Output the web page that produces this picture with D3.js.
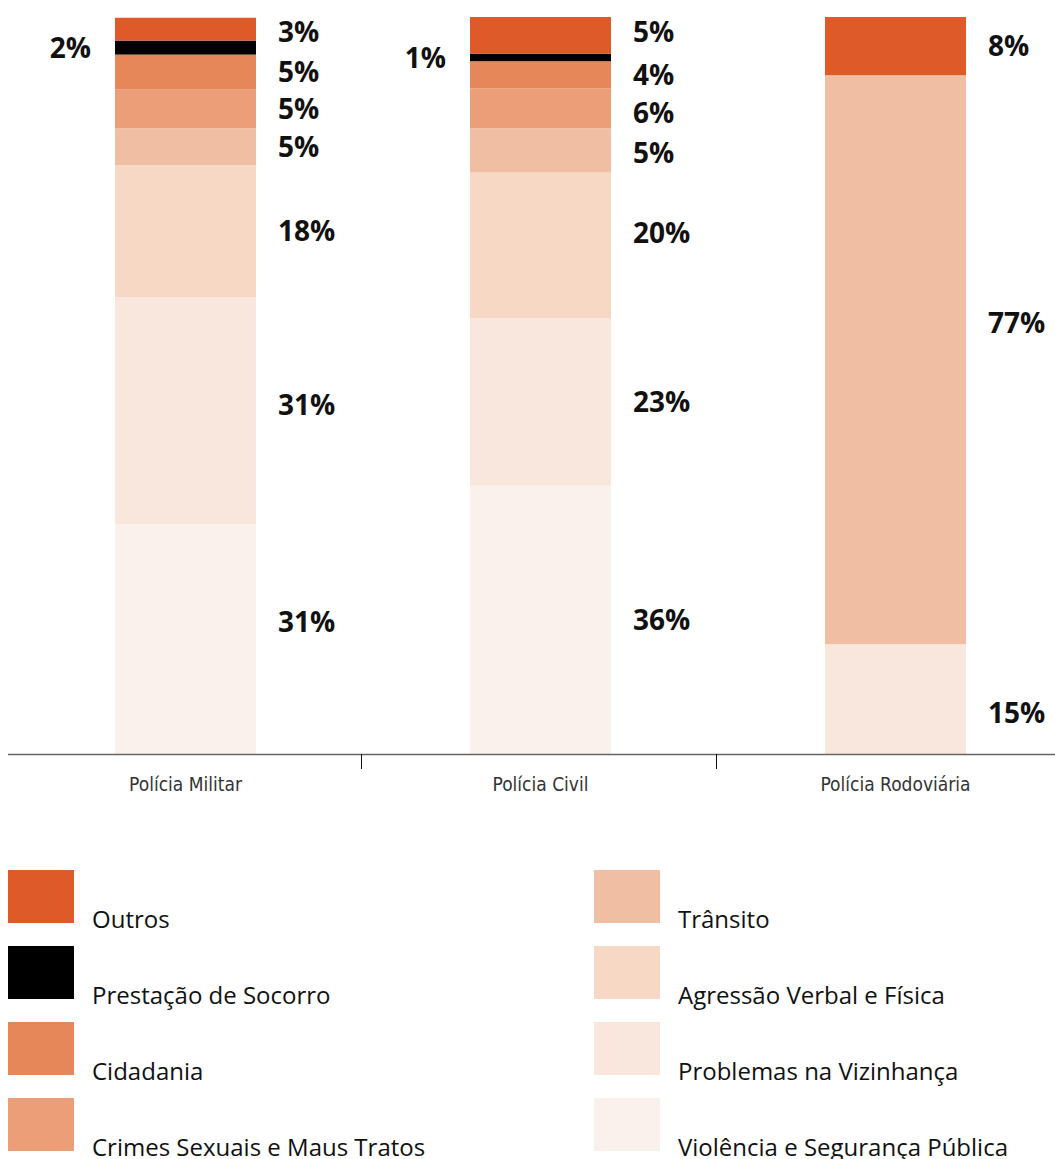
<!DOCTYPE html>
<html>
<head>
<meta charset="utf-8">
<script src="https://cdn.jsdelivr.net/npm/d3@7"></script>
<style>
  body { margin: 0; background: #fff; }
  svg { display: block; }
  .pct { font-family: "Open Sans", "Noto Sans", sans-serif; font-weight: 700; font-size: 28px; fill: #111; }
  .cat { font-family: "Liberation Sans Narrow", "DejaVu Sans Condensed", sans-serif; font-size: 19px; fill: #333; }
  .leg { font-family: "Open Sans", "Noto Sans", sans-serif; font-weight: 500; font-size: 24px; fill: #111; }
</style>
</head>
<body>
<div id="chart"></div>
<script>
// categories (bottom of the stack first)
var series = ["Violência e Segurança Pública", "Problemas na Vizinhança", "Agressão Verbal e Física",
	"Trânsito", "Crimes Sexuais e Maus Tratos", "Cidadania", "Prestação de Socorro", "Outros"];
var colors = ["#fbf1ec", "#f9e7de", "#f6d8c5", "#f0bea2", "#eb9e77", "#e6875a", "#000000", "#de5a29"];

var groups = ["Polícia Militar", "Polícia Civil", "Polícia Rodoviária"];

// estimated shares (%) per group, same order as series
var militar    = [31.2, 30.8, 17.9, 5.0, 5.3, 4.7, 1.9, 3.1];
var civil      = [36.4, 22.7, 19.8, 6.0, 5.4, 3.7, 1.0, 5.0];
var rodoviaria = [0, 14.9, 0, 77.2, 0, 0, 0, 7.9];

// printed labels
var militarLabels    = ["31%", "31%", "18%", "5%", "5%", "5%", "2%", "3%"];
var civilLabels      = ["36%", "23%", "20%", "5%", "6%", "4%", "1%", "5%"];
var rodoviariaLabels = ["", "15%", "", "77%", "", "", "", "8%"];

var values = [militar, civil, rodoviaria];
var labels = [militarLabels, civilLabels, rodoviariaLabels];

// legend order: two columns
var legendLeft  = ["Outros", "Prestação de Socorro", "Cidadania", "Crimes Sexuais e Maus Tratos"];
var legendRight = ["Trânsito", "Agressão Verbal e Física", "Problemas na Vizinhança", "Violência e Segurança Pública"];

var width = 1055, height = 1159;
var baseY = 754, topY = 17;
var barW = 141;

// small label shifts (px) where the original moved a label off the middle
var nudge = {
	"Polícia Militar|Violência e Segurança Pública": -17,
	"Polícia Militar|Problemas na Vizinhança": -6,
	"Polícia Militar|Outros": 3,
	"Polícia Civil|Agressão Verbal e Física": -13,
	"Polícia Civil|Outros": -4,
	"Polícia Civil|Crimes Sexuais e Maus Tratos": 5,
	"Polícia Civil|Trânsito": 3,
	"Polícia Rodoviária|Trânsito": -37,
	"Polícia Rodoviária|Problemas na Vizinhança": 14
};

var svg = d3.select("#chart").append("svg")
	.attr("width", width)
	.attr("height", height);

var x = d3.scaleBand()
	.domain(groups)
	.range([8, 1073])
	.padding(0);

var y = d3.scaleLinear()
	.domain([0, 100])
	.range([baseY, topY]);

var color = d3.scaleOrdinal()
	.domain(series)
	.range(colors);

// build stacked segments
var segs = [];
groups.forEach(function(g, gi) {
	var acc = 0;
	values[gi].forEach(function(v, si) {
		segs.push({group: g, key: series[si], y0: acc, y1: acc + v, label: labels[gi][si]});
		acc += v;
	});
});
segs = segs.filter(function(d) { return d.y1 > d.y0; });

var barX = function(d) { return x(d.group) + (x.bandwidth() - barW) / 2; };

svg.selectAll("rect.seg")
	.data(segs)
	.enter()
	.append("rect")
	.attr("class", "seg")
	.attr("x", barX)
	.attr("width", barW)
	.attr("y", function(d) { return y(d.y1); })
	.attr("height", function(d) { return y(d.y0) - y(d.y1); })
	.attr("fill", function(d) { return color(d.key); });

// percentage labels; "Prestação de Socorro" sits on the left of the bar
svg.selectAll("text.pct")
	.data(segs.filter(function(d) { return d.label; }))
	.enter()
	.append("text")
	.attr("class", "pct")
	.attr("x", function(d) {
		return d.key === "Prestação de Socorro" ? barX(d) - 24 : barX(d) + barW + 22;
	})
	.attr("y", function(d) {
		return y((d.y0 + d.y1) / 2) + (nudge[d.group + "|" + d.key] || 0);
	})
	.attr("dy", "0.36em")
	.attr("text-anchor", function(d) { return d.key === "Prestação de Socorro" ? "end" : "start"; })
	.text(function(d) { return d.label; });

// axis line
svg.append("line")
	.attr("x1", 8).attr("x2", width)
	.attr("y1", baseY + 0.5).attr("y2", baseY + 0.5)
	.attr("stroke", "#666")
	.attr("stroke-width", 1.5);

// separators between groups
svg.selectAll("line.sep")
	.data(groups.slice(1))
	.enter()
	.append("line")
	.attr("class", "sep")
	.attr("x1", function(d) { return x(d) - 1.5; })
	.attr("x2", function(d) { return x(d) - 1.5; })
	.attr("y1", baseY)
	.attr("y2", baseY + 15)
	.attr("stroke", "#111");

svg.selectAll("text.cat")
	.data(groups)
	.enter()
	.append("text")
	.attr("class", "cat")
	.attr("x", function(d) { return x(d) + x.bandwidth() / 2; })
	.attr("y", 791)
	.attr("text-anchor", "middle")
	.text(function(d) { return d; });

// legend
var legY = d3.scaleBand().domain(d3.range(4)).range([870, 1174]);
var legCols = [{items: legendLeft, x: 8}, {items: legendRight, x: 594}];

legCols.forEach(function(col) {
	var g = svg.append("g");
	g.selectAll("rect")
		.data(col.items)
		.enter()
		.append("rect")
		.attr("x", col.x)
		.attr("y", function(d, i) { return legY(i); })
		.attr("width", 66)
		.attr("height", 53)
		.attr("fill", function(d) { return color(d); });
	g.selectAll("text")
		.data(col.items)
		.enter()
		.append("text")
		.attr("class", "leg")
		.attr("x", col.x + 84)
		.attr("y", function(d, i) { return legY(i) + 58; })
		.text(function(d) { return d; });
});
</script>
</body>
</html>
